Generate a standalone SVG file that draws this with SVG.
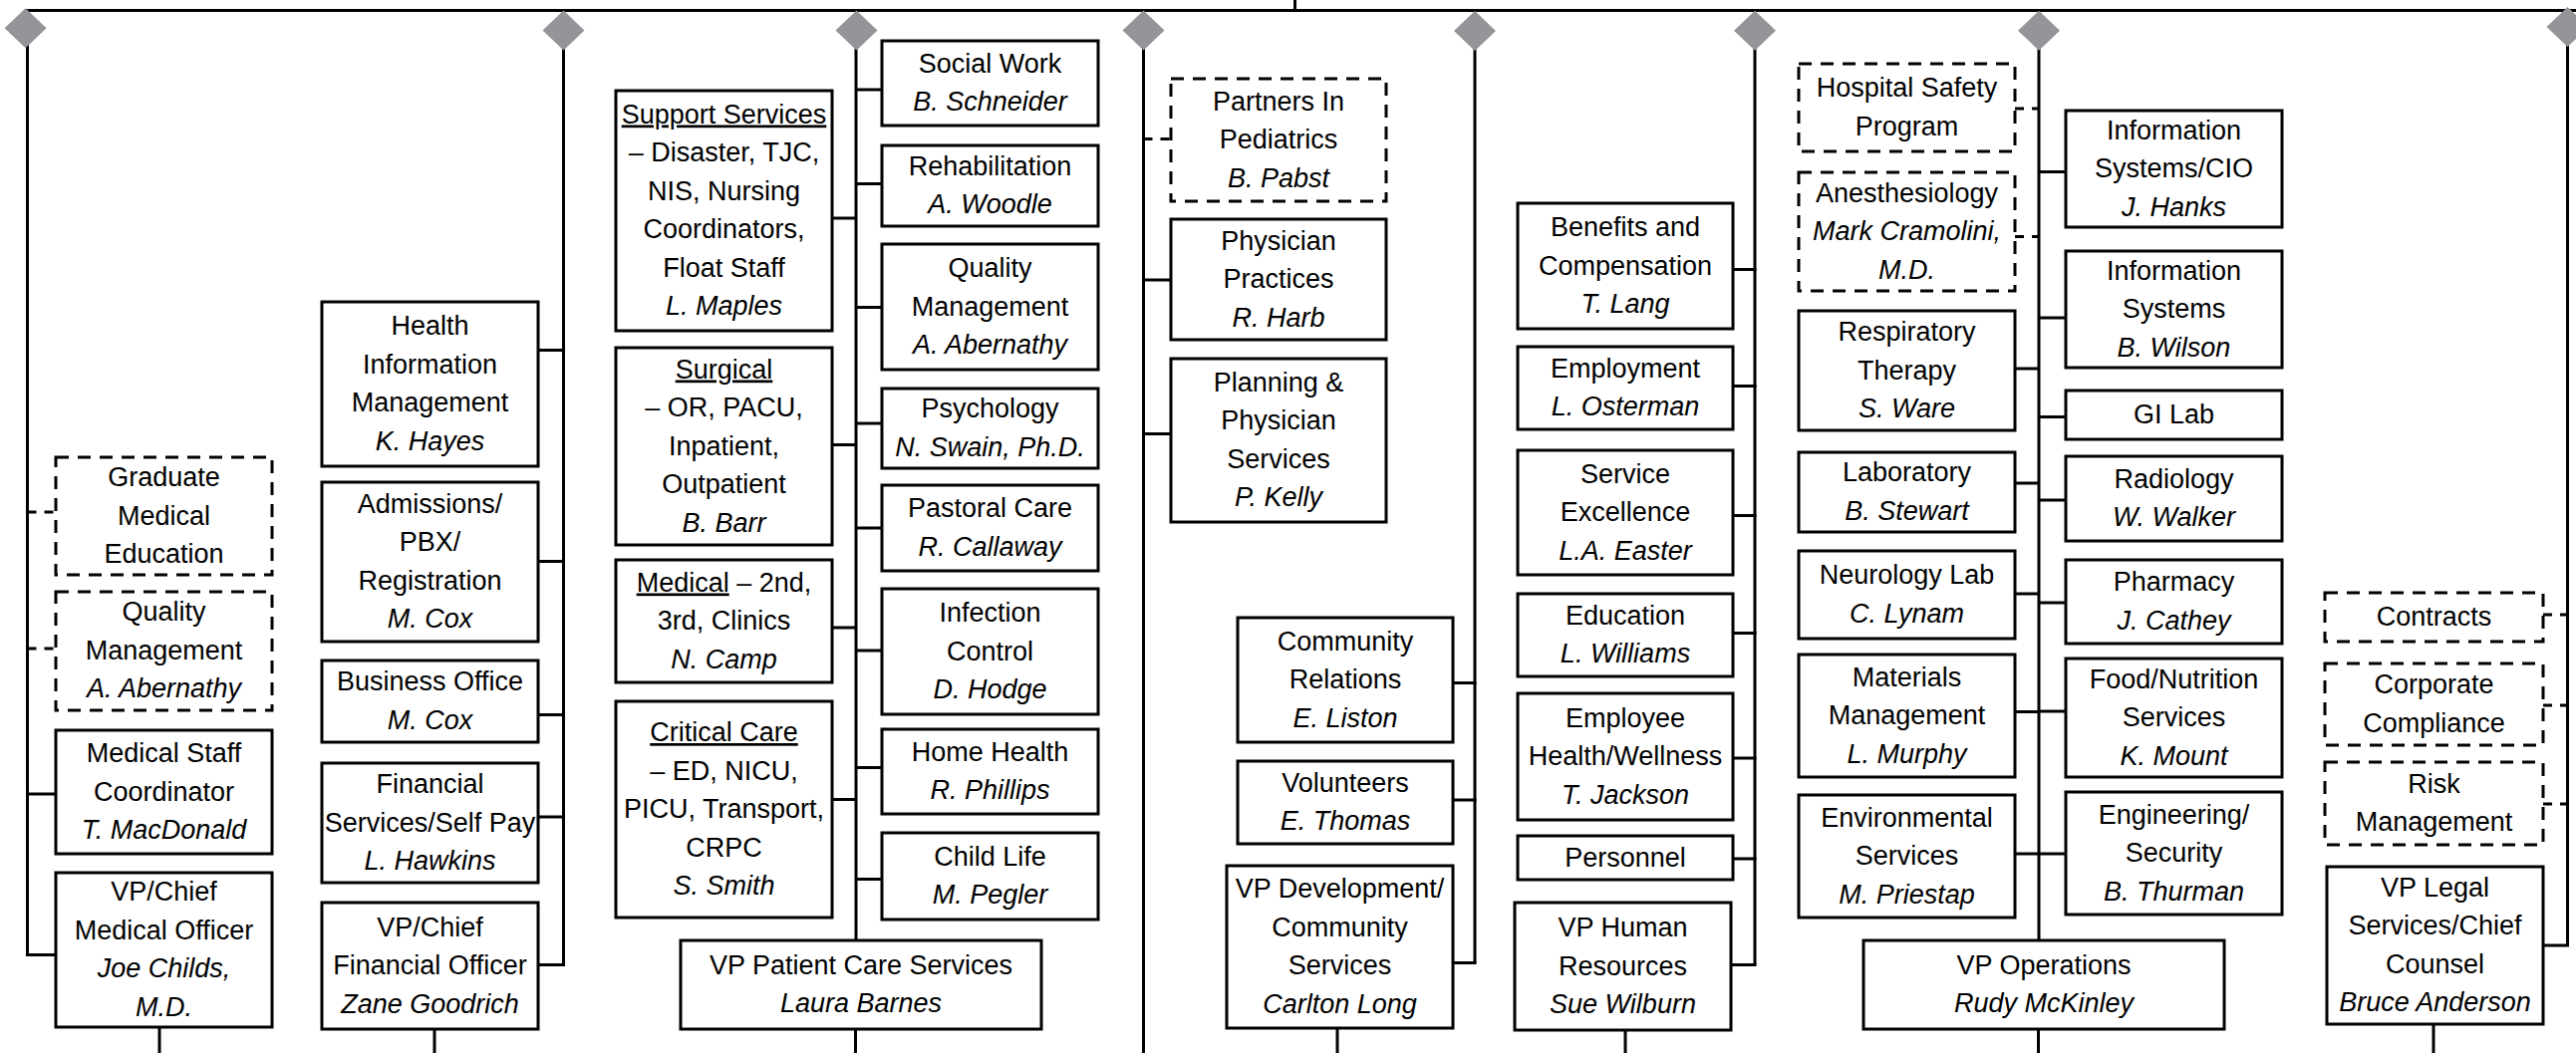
<svg xmlns="http://www.w3.org/2000/svg" width="2585" height="1057" viewBox="0 0 2585 1057">
<style>
.box{fill:#fff;stroke:#000;stroke-width:3}
.dash{stroke-dasharray:13 9}
.ln{stroke:#000;stroke-width:3;fill:none}
.dl{stroke:#000;stroke-width:3;fill:none;stroke-dasharray:9 8}
.dm{fill:#939598;stroke:none}
text{font-family:"Liberation Sans",Arial,sans-serif;font-size:27px;fill:#000;text-anchor:middle}
.i{font-style:italic}
.u{text-decoration:underline}
</style>
<rect x="0" y="0" width="2585" height="1057" fill="#fff"/>
<g id="connectors">
<line class="ln" x1="26" y1="10.5" x2="2585" y2="10.5"/>
<line class="ln" x1="1299.5" y1="0" x2="1299.5" y2="10.5"/>
<!-- CMO -->
<line class="ln" x1="27.5" y1="40" x2="27.5" y2="958.5"/>
<line class="dl" x1="27.5" y1="514" x2="56" y2="514"/>
<line class="dl" x1="27.5" y1="651" x2="56" y2="651"/>
<line class="ln" x1="26" y1="797" x2="56" y2="797"/>
<line class="ln" x1="26" y1="958.5" x2="56" y2="958.5"/>
<line class="ln" x1="160" y1="1031" x2="160" y2="1057"/>
<!-- CFO -->
<line class="ln" x1="565.5" y1="40" x2="565.5" y2="968.5"/>
<line class="ln" x1="540" y1="351.5" x2="567" y2="351.5"/>
<line class="ln" x1="540" y1="563.5" x2="567" y2="563.5"/>
<line class="ln" x1="540" y1="717.5" x2="567" y2="717.5"/>
<line class="ln" x1="540" y1="820" x2="567" y2="820"/>
<line class="ln" x1="540" y1="968.5" x2="567" y2="968.5"/>
<line class="ln" x1="436" y1="1033" x2="436" y2="1057"/>
<!-- Patient care -->
<line class="ln" x1="859" y1="40" x2="859" y2="944"/>
<line class="ln" x1="835" y1="219" x2="859" y2="219"/>
<line class="ln" x1="835" y1="446.5" x2="859" y2="446.5"/>
<line class="ln" x1="835" y1="630" x2="859" y2="630"/>
<line class="ln" x1="835" y1="802.5" x2="859" y2="802.5"/>
<line class="ln" x1="859" y1="90" x2="885" y2="90"/>
<line class="ln" x1="859" y1="184.5" x2="885" y2="184.5"/>
<line class="ln" x1="859" y1="308.5" x2="885" y2="308.5"/>
<line class="ln" x1="859" y1="425" x2="885" y2="425"/>
<line class="ln" x1="859" y1="530" x2="885" y2="530"/>
<line class="ln" x1="859" y1="653" x2="885" y2="653"/>
<line class="ln" x1="859" y1="770.5" x2="885" y2="770.5"/>
<line class="ln" x1="859" y1="882.5" x2="885" y2="882.5"/>
<line class="ln" x1="858.5" y1="1033" x2="858.5" y2="1057"/>
<!-- Physician -->
<line class="ln" x1="1147.5" y1="40" x2="1147.5" y2="1057"/>
<line class="dl" x1="1147.5" y1="139.5" x2="1175" y2="139.5"/>
<line class="ln" x1="1147.5" y1="281" x2="1175" y2="281"/>
<line class="ln" x1="1147.5" y1="435.5" x2="1175" y2="435.5"/>
<!-- Development -->
<line class="ln" x1="1480" y1="40" x2="1480" y2="966.5"/>
<line class="ln" x1="1458" y1="685.5" x2="1481.5" y2="685.5"/>
<line class="ln" x1="1458" y1="803" x2="1481.5" y2="803"/>
<line class="ln" x1="1458" y1="966.5" x2="1481.5" y2="966.5"/>
<line class="ln" x1="1342" y1="1032" x2="1342" y2="1057"/>
<!-- HR -->
<line class="ln" x1="1761" y1="40" x2="1761" y2="968.5"/>
<line class="ln" x1="1739" y1="270.5" x2="1762.5" y2="270.5"/>
<line class="ln" x1="1739" y1="387.5" x2="1762.5" y2="387.5"/>
<line class="ln" x1="1739" y1="517.5" x2="1762.5" y2="517.5"/>
<line class="ln" x1="1739" y1="635.5" x2="1762.5" y2="635.5"/>
<line class="ln" x1="1739" y1="761" x2="1762.5" y2="761"/>
<line class="ln" x1="1739" y1="862" x2="1762.5" y2="862"/>
<line class="ln" x1="1737" y1="968.5" x2="1762.5" y2="968.5"/>
<line class="ln" x1="1631" y1="1034" x2="1631" y2="1057"/>
<!-- Operations -->
<line class="ln" x1="2046" y1="40" x2="2046" y2="944"/>
<line class="dl" x1="2022" y1="109" x2="2046" y2="109"/>
<line class="dl" x1="2022" y1="237.5" x2="2046" y2="237.5"/>
<line class="ln" x1="2022" y1="370" x2="2046" y2="370"/>
<line class="ln" x1="2022" y1="485" x2="2046" y2="485"/>
<line class="ln" x1="2022" y1="596" x2="2046" y2="596"/>
<line class="ln" x1="2022" y1="714.5" x2="2046" y2="714.5"/>
<line class="ln" x1="2022" y1="857" x2="2046" y2="857"/>
<line class="ln" x1="2046" y1="172.5" x2="2073" y2="172.5"/>
<line class="ln" x1="2046" y1="319" x2="2073" y2="319"/>
<line class="ln" x1="2046" y1="418.5" x2="2073" y2="418.5"/>
<line class="ln" x1="2046" y1="502" x2="2073" y2="502"/>
<line class="ln" x1="2046" y1="605" x2="2073" y2="605"/>
<line class="ln" x1="2046" y1="714" x2="2073" y2="714"/>
<line class="ln" x1="2046" y1="857" x2="2073" y2="857"/>
<line class="ln" x1="2045.5" y1="1033" x2="2045.5" y2="1057"/>
<!-- Legal -->
<line class="ln" x1="2576.5" y1="40" x2="2576.5" y2="949"/>
<line class="dl" x1="2552" y1="617" x2="2576.5" y2="617"/>
<line class="dl" x1="2552" y1="708" x2="2576.5" y2="708"/>
<line class="dl" x1="2552" y1="807" x2="2576.5" y2="807"/>
<line class="ln" x1="2552" y1="949" x2="2578" y2="949"/>
<line class="ln" x1="2442" y1="1028" x2="2442" y2="1057"/>
<!-- diamonds -->
<polygon class="dm" points="25.6,8.3 46.6,28.3 25.6,48.3 4.6,28.3"/>
<polygon class="dm" points="565.5,10.5 586.5,30.5 565.5,50.5 544.5,30.5"/>
<polygon class="dm" points="859.5,10.5 880.5,30.5 859.5,50.5 838.5,30.5"/>
<polygon class="dm" points="1147.5,10.5 1168.5,30.5 1147.5,50.5 1126.5,30.5"/>
<polygon class="dm" points="1480,11 1501,31 1480,51 1459,31"/>
<polygon class="dm" points="1761,10.7 1782,30.7 1761,50.7 1740,30.7"/>
<polygon class="dm" points="2046,10.7 2067,30.7 2046,50.7 2025,30.7"/>
<polygon class="dm" points="2576.5,7 2597.5,27 2576.5,47 2555.5,27"/>
</g>

<g id="n-gme"><rect class="box dash" x="56" y="459" width="217" height="118"/><text><tspan x="164.5" y="488">Graduate</tspan><tspan x="164.5" y="526.5">Medical</tspan><tspan x="164.5" y="565">Education</tspan></text></g>
<g id="n-qm1"><rect class="box dash" x="56" y="594" width="217" height="119"/><text><tspan x="164.5" y="623">Quality</tspan><tspan x="164.5" y="661.5">Management</tspan><tspan class="i" x="164.5" y="700">A. Abernathy</tspan></text></g>
<g id="n-msc"><rect class="box" x="56" y="733" width="217" height="124"/><text><tspan x="164.5" y="765">Medical Staff</tspan><tspan x="164.5" y="803.5">Coordinator</tspan><tspan class="i" x="164.5" y="842">T. MacDonald</tspan></text></g>
<g id="n-vpcmo"><rect class="box" x="56" y="876" width="217" height="155"/><text><tspan x="164.5" y="904">VP/Chief</tspan><tspan x="164.5" y="942.5">Medical Officer</tspan><tspan class="i" x="164.5" y="981">Joe Childs,</tspan><tspan class="i" x="164.5" y="1019.5">M.D.</tspan></text></g>

<g id="n-him"><rect class="box" x="323" y="303" width="217" height="165"/><text><tspan x="431.5" y="336">Health</tspan><tspan x="431.5" y="374.5">Information</tspan><tspan x="431.5" y="413">Management</tspan><tspan class="i" x="431.5" y="451.5">K. Hayes</tspan></text></g>
<g id="n-adm"><rect class="box" x="323" y="484" width="217" height="160"/><text><tspan x="431.5" y="514.5">Admissions/</tspan><tspan x="431.5" y="553">PBX/</tspan><tspan x="431.5" y="591.5">Registration</tspan><tspan class="i" x="431.5" y="630">M. Cox</tspan></text></g>
<g id="n-bus"><rect class="box" x="323" y="663" width="217" height="82"/><text><tspan x="431.5" y="693">Business Office</tspan><tspan class="i" x="431.5" y="731.5">M. Cox</tspan></text></g>
<g id="n-fin"><rect class="box" x="323" y="766" width="217" height="120"/><text><tspan x="431.5" y="796">Financial</tspan><tspan x="431.5" y="834.5">Services/Self Pay</tspan><tspan class="i" x="431.5" y="873">L. Hawkins</tspan></text></g>
<g id="n-vpcfo"><rect class="box" x="323" y="906" width="217" height="127"/><text><tspan x="431.5" y="939.5">VP/Chief</tspan><tspan x="431.5" y="978">Financial Officer</tspan><tspan class="i" x="431.5" y="1016.5">Zane Goodrich</tspan></text></g>

<g id="n-sup"><rect class="box" x="618" y="91" width="217" height="241"/><text><tspan class="u" x="726.5" y="123.5">Support Services</tspan><tspan x="726.5" y="162">– Disaster, TJC,</tspan><tspan x="726.5" y="200.5">NIS, Nursing</tspan><tspan x="726.5" y="239">Coordinators,</tspan><tspan x="726.5" y="277.5">Float Staff</tspan><tspan class="i" x="726.5" y="316">L. Maples</tspan></text></g>
<g id="n-surg"><rect class="box" x="618" y="349" width="217" height="198"/><text><tspan class="u" x="726.5" y="379.5">Surgical</tspan><tspan x="726.5" y="418">– OR, PACU,</tspan><tspan x="726.5" y="456.5">Inpatient,</tspan><tspan x="726.5" y="495">Outpatient</tspan><tspan class="i" x="726.5" y="533.5">B. Barr</tspan></text></g>
<g id="n-med"><rect class="box" x="618" y="562" width="217" height="123"/><text><tspan x="726.5" y="593.5"><tspan class="u">Medical</tspan> – 2nd,</tspan><tspan x="726.5" y="632">3rd, Clinics</tspan><tspan class="i" x="726.5" y="670.5">N. Camp</tspan></text></g>
<g id="n-crit"><rect class="box" x="618" y="704" width="217" height="217"/><text><tspan class="u" x="726.5" y="744">Critical Care</tspan><tspan x="726.5" y="782.5">– ED, NICU,</tspan><tspan x="726.5" y="821">PICU, Transport,</tspan><tspan x="726.5" y="859.5">CRPC</tspan><tspan class="i" x="726.5" y="898">S. Smith</tspan></text></g>
<g id="n-sw"><rect class="box" x="885" y="41" width="217" height="85"/><text><tspan x="993.5" y="72.5">Social Work</tspan><tspan class="i" x="993.5" y="111">B. Schneider</tspan></text></g>
<g id="n-reh"><rect class="box" x="885" y="146" width="217" height="81"/><text><tspan x="993.5" y="175.5">Rehabilitation</tspan><tspan class="i" x="993.5" y="214">A. Woodle</tspan></text></g>
<g id="n-qm2"><rect class="box" x="885" y="245" width="217" height="126"/><text><tspan x="993.5" y="278">Quality</tspan><tspan x="993.5" y="316.5">Management</tspan><tspan class="i" x="993.5" y="355">A. Abernathy</tspan></text></g>
<g id="n-psy"><rect class="box" x="885" y="390" width="217" height="80"/><text><tspan x="993.5" y="419">Psychology</tspan><tspan class="i" x="993.5" y="457.5">N. Swain, Ph.D.</tspan></text></g>
<g id="n-past"><rect class="box" x="885" y="487" width="217" height="86"/><text><tspan x="993.5" y="519">Pastoral Care</tspan><tspan class="i" x="993.5" y="557.5">R. Callaway</tspan></text></g>
<g id="n-inf"><rect class="box" x="885" y="591" width="217" height="126"/><text><tspan x="993.5" y="624">Infection</tspan><tspan x="993.5" y="662.5">Control</tspan><tspan class="i" x="993.5" y="701">D. Hodge</tspan></text></g>
<g id="n-home"><rect class="box" x="885" y="732" width="217" height="85"/><text><tspan x="993.5" y="763.5">Home Health</tspan><tspan class="i" x="993.5" y="802">R. Phillips</tspan></text></g>
<g id="n-child"><rect class="box" x="885" y="836" width="217" height="87"/><text><tspan x="993.5" y="868.5">Child Life</tspan><tspan class="i" x="993.5" y="907">M. Pegler</tspan></text></g>
<g id="n-vppcs"><rect class="box" x="683" y="944" width="362" height="89"/><text><tspan x="864" y="977.5">VP Patient Care Services</tspan><tspan class="i" x="864" y="1016">Laura Barnes</tspan></text></g>

<g id="n-pip"><rect class="box dash" x="1175" y="79" width="216" height="123"/><text><tspan x="1283" y="110.5">Partners In</tspan><tspan x="1283" y="149">Pediatrics</tspan><tspan class="i" x="1283" y="187.5">B. Pabst</tspan></text></g>
<g id="n-pp"><rect class="box" x="1175" y="220" width="216" height="121"/><text><tspan x="1283" y="250.5">Physician</tspan><tspan x="1283" y="289">Practices</tspan><tspan class="i" x="1283" y="327.5">R. Harb</tspan></text></g>
<g id="n-plan"><rect class="box" x="1175" y="360" width="216" height="164"/><text><tspan x="1283" y="392.5">Planning &amp;</tspan><tspan x="1283" y="431">Physician</tspan><tspan x="1283" y="469.5">Services</tspan><tspan class="i" x="1283" y="508">P. Kelly</tspan></text></g>

<g id="n-cr"><rect class="box" x="1242" y="620" width="216" height="125"/><text><tspan x="1350" y="652.5">Community</tspan><tspan x="1350" y="691">Relations</tspan><tspan class="i" x="1350" y="729.5">E. Liston</tspan></text></g>
<g id="n-vol"><rect class="box" x="1242" y="764" width="216" height="83"/><text><tspan x="1350" y="794.5">Volunteers</tspan><tspan class="i" x="1350" y="833">E. Thomas</tspan></text></g>
<g id="n-vpdev"><rect class="box" x="1231" y="869" width="227" height="163"/><text><tspan x="1344.5" y="901">VP Development/</tspan><tspan x="1344.5" y="939.5">Community</tspan><tspan x="1344.5" y="978">Services</tspan><tspan class="i" x="1344.5" y="1016.5">Carlton Long</tspan></text></g>

<g id="n-ben"><rect class="box" x="1523" y="204" width="216" height="126"/><text><tspan x="1631" y="237">Benefits and</tspan><tspan x="1631" y="275.5">Compensation</tspan><tspan class="i" x="1631" y="314">T. Lang</tspan></text></g>
<g id="n-emp"><rect class="box" x="1523" y="348" width="216" height="83"/><text><tspan x="1631" y="378.5">Employment</tspan><tspan class="i" x="1631" y="417">L. Osterman</tspan></text></g>
<g id="n-se"><rect class="box" x="1523" y="452" width="216" height="125"/><text><tspan x="1631" y="484.5">Service</tspan><tspan x="1631" y="523">Excellence</tspan><tspan class="i" x="1631" y="561.5">L.A. Easter</tspan></text></g>
<g id="n-edu"><rect class="box" x="1523" y="596" width="216" height="83"/><text><tspan x="1631" y="626.5">Education</tspan><tspan class="i" x="1631" y="665">L. Williams</tspan></text></g>
<g id="n-ehw"><rect class="box" x="1523" y="696" width="216" height="127"/><text><tspan x="1631" y="729.5">Employee</tspan><tspan x="1631" y="768">Health/Wellness</tspan><tspan class="i" x="1631" y="806.5">T. Jackson</tspan></text></g>
<g id="n-pers"><rect class="box" x="1523" y="839" width="216" height="44"/><text><tspan x="1631" y="869.5">Personnel</tspan></text></g>
<g id="n-vphr"><rect class="box" x="1520" y="906" width="217" height="128"/><text><tspan x="1628.5" y="940">VP Human</tspan><tspan x="1628.5" y="978.5">Resources</tspan><tspan class="i" x="1628.5" y="1017">Sue Wilburn</tspan></text></g>

<g id="n-hsp"><rect class="box dash" x="1805" y="64" width="217" height="88"/><text><tspan x="1913.5" y="97">Hospital Safety</tspan><tspan x="1913.5" y="135.5">Program</tspan></text></g>
<g id="n-anes"><rect class="box dash" x="1805" y="173" width="217" height="119"/><text><tspan x="1913.5" y="202.5">Anesthesiology</tspan><tspan class="i" x="1913.5" y="241">Mark Cramolini,</tspan><tspan class="i" x="1913.5" y="279.5">M.D.</tspan></text></g>
<g id="n-resp"><rect class="box" x="1805" y="312" width="217" height="120"/><text><tspan x="1913.5" y="342">Respiratory</tspan><tspan x="1913.5" y="380.5">Therapy</tspan><tspan class="i" x="1913.5" y="419">S. Ware</tspan></text></g>
<g id="n-lab"><rect class="box" x="1805" y="454" width="217" height="80"/><text><tspan x="1913.5" y="483">Laboratory</tspan><tspan class="i" x="1913.5" y="521.5">B. Stewart</tspan></text></g>
<g id="n-neuro"><rect class="box" x="1805" y="553" width="217" height="88"/><text><tspan x="1913.5" y="586">Neurology Lab</tspan><tspan class="i" x="1913.5" y="624.5">C. Lynam</tspan></text></g>
<g id="n-mat"><rect class="box" x="1805" y="657" width="217" height="123"/><text><tspan x="1913.5" y="688.5">Materials</tspan><tspan x="1913.5" y="727">Management</tspan><tspan class="i" x="1913.5" y="765.5">L. Murphy</tspan></text></g>
<g id="n-env"><rect class="box" x="1805" y="798" width="217" height="123"/><text><tspan x="1913.5" y="829.5">Environmental</tspan><tspan x="1913.5" y="868">Services</tspan><tspan class="i" x="1913.5" y="906.5">M. Priestap</tspan></text></g>
<g id="n-iscio"><rect class="box" x="2073" y="111" width="217" height="117"/><text><tspan x="2181.5" y="139.5">Information</tspan><tspan x="2181.5" y="178">Systems/CIO</tspan><tspan class="i" x="2181.5" y="216.5">J. Hanks</tspan></text></g>
<g id="n-is"><rect class="box" x="2073" y="252" width="217" height="117"/><text><tspan x="2181.5" y="280.5">Information</tspan><tspan x="2181.5" y="319">Systems</tspan><tspan class="i" x="2181.5" y="357.5">B. Wilson</tspan></text></g>
<g id="n-gi"><rect class="box" x="2073" y="392" width="217" height="49"/><text><tspan x="2181.5" y="425">GI Lab</tspan></text></g>
<g id="n-rad"><rect class="box" x="2073" y="458" width="217" height="85"/><text><tspan x="2181.5" y="489.5">Radiology</tspan><tspan class="i" x="2181.5" y="528">W. Walker</tspan></text></g>
<g id="n-pharm"><rect class="box" x="2073" y="562" width="217" height="84"/><text><tspan x="2181.5" y="593">Pharmacy</tspan><tspan class="i" x="2181.5" y="631.5">J. Cathey</tspan></text></g>
<g id="n-food"><rect class="box" x="2073" y="661" width="217" height="119"/><text><tspan x="2181.5" y="690.5">Food/Nutrition</tspan><tspan x="2181.5" y="729">Services</tspan><tspan class="i" x="2181.5" y="767.5">K. Mount</tspan></text></g>
<g id="n-eng"><rect class="box" x="2073" y="795" width="217" height="123"/><text><tspan x="2181.5" y="826.5">Engineering/</tspan><tspan x="2181.5" y="865">Security</tspan><tspan class="i" x="2181.5" y="903.5">B. Thurman</tspan></text></g>
<g id="n-vpops"><rect class="box" x="1870" y="944" width="362" height="89"/><text><tspan x="2051" y="977.5">VP Operations</tspan><tspan class="i" x="2051" y="1016">Rudy McKinley</tspan></text></g>

<g id="n-contr"><rect class="box dash" x="2333" y="595" width="219" height="49"/><text><tspan x="2442.5" y="628">Contracts</tspan></text></g>
<g id="n-cc"><rect class="box dash" x="2333" y="666" width="219" height="82"/><text><tspan x="2442.5" y="696">Corporate</tspan><tspan x="2442.5" y="734.5">Compliance</tspan></text></g>
<g id="n-risk"><rect class="box dash" x="2333" y="765" width="219" height="83"/><text><tspan x="2442.5" y="795.5">Risk</tspan><tspan x="2442.5" y="834">Management</tspan></text></g>
<g id="n-vplegal"><rect class="box" x="2335" y="870" width="217" height="158"/><text><tspan x="2443.5" y="899.5">VP Legal</tspan><tspan x="2443.5" y="938">Services/Chief</tspan><tspan x="2443.5" y="976.5">Counsel</tspan><tspan class="i" x="2443.5" y="1015">Bruce Anderson</tspan></text></g>
</svg>
